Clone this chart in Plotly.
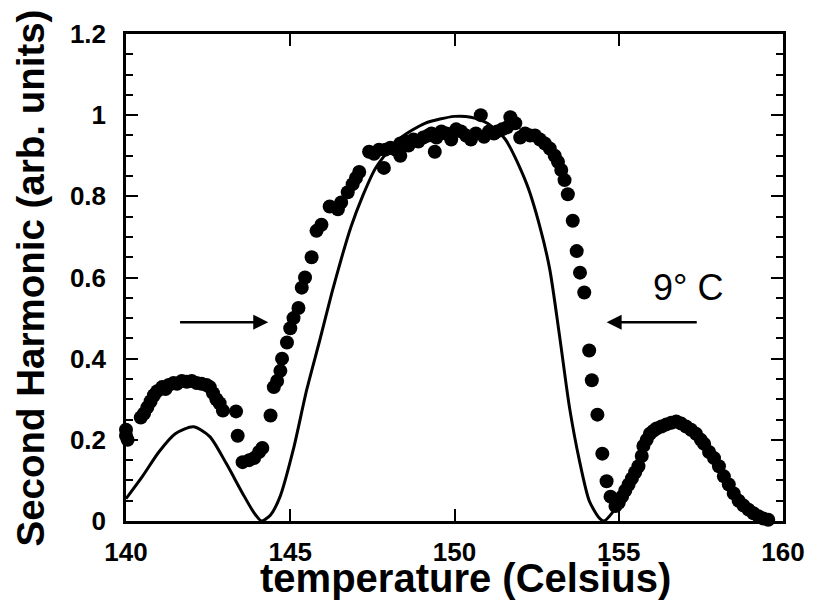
import plotly.graph_objects as go

# Measured points (temperature in Celsius, second harmonic in arb. units)
measured_temp = [
    140.0, 140.0, 140.05, 140.45, 140.55, 140.65, 140.75, 140.85, 140.95, 141.1,
    141.2, 141.3, 141.45, 141.55, 141.7, 141.85, 142.0, 142.15, 142.3, 142.45,
    142.55, 142.65, 142.75, 142.85, 142.95, 143.35, 143.4, 143.55, 143.75, 143.9,
    144.05, 144.15, 144.4, 144.5, 144.6, 144.7, 144.75, 144.9, 145.0, 145.1,
    145.25, 145.35, 145.45, 145.65, 145.8, 145.95, 146.2, 146.45, 146.55, 146.75,
    146.9, 147.0, 147.1, 147.4, 147.55, 147.7, 147.85, 147.9, 148.05, 148.2,
    148.35, 148.35, 148.5, 148.6, 148.75, 148.9, 149.05, 149.2, 149.3, 149.4,
    149.45, 149.6, 149.75, 149.9, 150.05, 150.2, 150.35, 150.5, 150.65, 150.8,
    150.9, 151.05, 151.2, 151.3, 151.45, 151.6, 151.7, 151.85, 152.0, 152.15,
    152.3, 152.45, 152.6, 152.75, 152.9, 153.05, 153.15, 153.25, 153.35, 153.45,
    153.6, 153.72, 153.82, 153.95, 154.1, 154.18, 154.35, 154.5, 154.63, 154.75,
    154.9, 155.0, 155.1, 155.2, 155.3, 155.4, 155.5, 155.6, 155.7, 155.75,
    155.85, 155.95, 156.05, 156.15, 156.3, 156.45, 156.6, 156.75, 156.9, 157.05,
    157.2, 157.35, 157.5, 157.6, 157.75, 157.9, 158.05, 158.2, 158.35, 158.5,
    158.65, 158.8, 158.95, 159.1, 159.25, 159.4, 159.55,
]
measured_sh = [
    0.21, 0.225, 0.20, 0.255, 0.265, 0.28, 0.295, 0.31, 0.32, 0.33,
    0.325, 0.335, 0.34, 0.338, 0.345, 0.343, 0.345, 0.34, 0.338, 0.335,
    0.33, 0.315, 0.30, 0.29, 0.272, 0.27, 0.21, 0.145, 0.15, 0.155,
    0.17, 0.18, 0.26, 0.33, 0.345, 0.37, 0.40, 0.44, 0.475, 0.50,
    0.525, 0.575, 0.60, 0.65, 0.715, 0.73, 0.775, 0.768, 0.785, 0.81,
    0.83, 0.845, 0.86, 0.91, 0.905, 0.915, 0.87, 0.915, 0.92, 0.915,
    0.90, 0.93, 0.935, 0.925, 0.94, 0.935, 0.945, 0.95, 0.955, 0.91,
    0.945, 0.96, 0.955, 0.94, 0.965, 0.96, 0.95, 0.94, 0.955, 1.0,
    0.947, 0.96, 0.955, 0.96, 0.965, 0.97, 0.995, 0.98, 0.945, 0.955,
    0.95, 0.95, 0.94, 0.93, 0.918, 0.90, 0.885, 0.865, 0.84, 0.805,
    0.74, 0.665, 0.612, 0.563, 0.42, 0.347, 0.262, 0.166, 0.098, 0.06,
    0.037, 0.045, 0.06, 0.075, 0.09, 0.105, 0.12, 0.135, 0.16, 0.185,
    0.2, 0.215, 0.222, 0.228, 0.233, 0.238, 0.242, 0.245, 0.24, 0.233,
    0.225, 0.215, 0.2, 0.19, 0.17, 0.155, 0.135, 0.11, 0.09, 0.068,
    0.05, 0.038, 0.028, 0.019, 0.012, 0.006, 0.003,
]

# Theory curve
theory_temp = [
    140.0, 140.5, 141.0, 141.5, 142.05, 142.55, 143.05, 143.55, 143.9, 144.13,
    144.4, 144.69, 145.09, 145.5, 145.9, 146.26, 146.55, 146.85, 147.2, 147.6,
    148.3, 149.1, 150.0, 150.5, 151.0, 151.55, 152.2, 152.6, 152.9, 153.2,
    153.5, 153.8, 154.1, 154.4, 154.55, 154.8, 155.1, 155.5, 155.9, 156.3,
    156.7, 157.2, 157.7, 158.2, 158.7, 159.2, 159.6,
]
theory_sh = [
    0.055, 0.11, 0.17, 0.215, 0.232, 0.208, 0.142, 0.068, 0.02, 0.0,
    0.015, 0.06, 0.175, 0.323, 0.446, 0.56, 0.645, 0.725, 0.8, 0.87,
    0.94, 0.98, 0.997, 0.995, 0.98, 0.94, 0.83, 0.725, 0.62, 0.455,
    0.28, 0.15, 0.05, 0.008, 0.0, 0.02, 0.06, 0.12, 0.2, 0.235,
    0.245, 0.225, 0.172, 0.11, 0.045, 0.012, 0.0,
]

# FWHM arrows
arrow_y = 0.49
left_arrow = (141.6, 144.33)
right_arrow = (157.42, 154.63)
width_label = "9° C"

fig = go.Figure()

fig.add_trace(go.Scatter(
    x=theory_temp, y=theory_sh, mode="lines",
    line=dict(color="black", width=3, shape="spline", smoothing=0.7),
    showlegend=False,
))

fig.add_trace(go.Scatter(
    x=measured_temp, y=measured_sh, mode="markers",
    marker=dict(color="black", size=14),
    cliponaxis=False, showlegend=False,
))

# Arrows
for tail, head in (left_arrow, right_arrow):
    fig.add_annotation(
        x=head, y=arrow_y, ax=tail, ay=arrow_y,
        xref="x", yref="y", axref="x", ayref="y",
        text="", showarrow=True,
        arrowhead=2, arrowsize=1.2, arrowwidth=2.5, arrowcolor="black",
    )

fig.add_annotation(
    x=157.1, y=0.575, xref="x", yref="y", text=width_label,
    showarrow=False, font=dict(size=36, color="black"),
)

# Axis titles placed by hand so they sit tight against the tick labels
fig.add_annotation(
    x=0.5175, y=-0.118, xref="paper", yref="paper",
    text="temperature (Celsius)", showarrow=False,
    xanchor="center", yanchor="middle",
    font=dict(size=40, weight="bold", color="black"),
)
fig.add_annotation(
    x=-0.1446, y=0.5, xref="paper", yref="paper",
    text="Second Harmonic (arb. units)", showarrow=False, textangle=-90,
    xanchor="center", yanchor="middle",
    font=dict(size=38.5, weight="bold", color="black"),
)

# Layout (page body adds an 8px margin, so the figure is 8px smaller)
fig.update_layout(
    width=806, height=597,
    margin=dict(l=118, r=31, t=26, b=84),
    paper_bgcolor="white", plot_bgcolor="white",
    font=dict(family="Liberation Sans, Arial", color="black"),
)

fig.update_xaxes(
    range=[140, 160], tickvals=[140, 145, 150, 155, 160],
    showline=True, linewidth=2.5, linecolor="black", mirror="ticks",
    ticks="inside", ticklen=12, tickwidth=2, tickcolor="black",
    tickfont=dict(size=26, weight="bold"), ticklabelstandoff=6,
    showgrid=False, zeroline=False, automargin=False,
)

fig.update_yaxes(
    range=[0, 1.2], tickvals=[0, 0.2, 0.4, 0.6, 0.8, 1.0, 1.2],
    showline=True, linewidth=2.5, linecolor="black", mirror="ticks",
    ticks="inside", ticklen=12, tickwidth=2, tickcolor="black",
    tickfont=dict(size=26, weight="bold"), ticklabelstandoff=12,
    minor=dict(dtick=0.05, ticks="inside", ticklen=7, tickwidth=2,
               tickcolor="black", showgrid=False),
    showgrid=False, zeroline=False, automargin=False,
)

fig.write_html("out.html")
